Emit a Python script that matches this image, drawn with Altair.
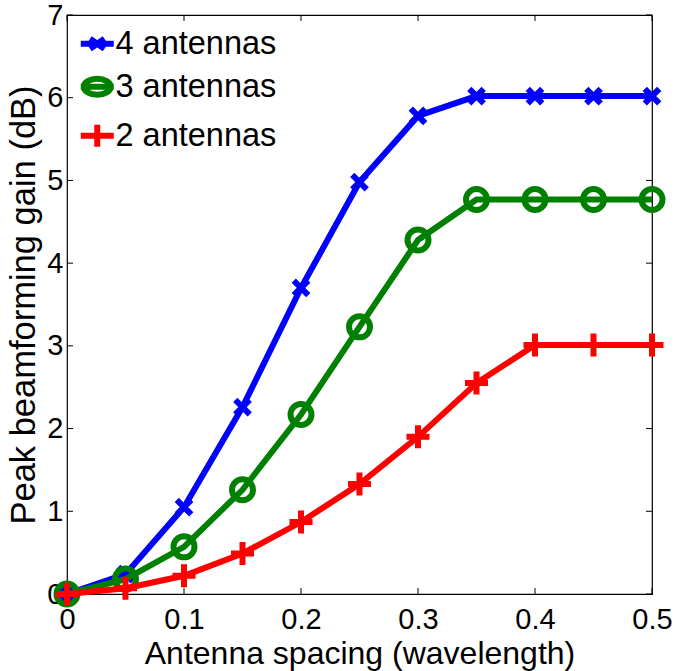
import altair as alt
import pandas as pd

# Peak beamforming gain versus antenna spacing, one curve per array size
spacing = [0, 0.05, 0.1, 0.15, 0.2, 0.25, 0.3, 0.35, 0.4, 0.45, 0.5]
gain_4 = [0, 0.24, 1.05, 2.26, 3.70, 4.98, 5.78, 6.02, 6.02, 6.02, 6.02]
gain_3 = [0, 0.18, 0.57, 1.26, 2.17, 3.23, 4.28, 4.77, 4.77, 4.77, 4.77]
gain_2 = [0, 0.07, 0.22, 0.49, 0.87, 1.33, 1.90, 2.55, 3.01, 3.01, 3.01]

series_names = ["4 antennas", "3 antennas", "2 antennas"]
series_colors = ["#0000FF", "#008000", "#FF0000"]

x_ticks = [0, 0.1, 0.2, 0.3, 0.4, 0.5]
y_ticks = [0, 1, 2, 3, 4, 5, 6, 7]

FONT = "Liberation Sans"
W, H = 585, 579
TICK = 6
LW = 6

rows = []
for name, gains in zip(series_names, [gain_4, gain_3, gain_2]):
    for s, g in zip(spacing, gains):
        rows.append({"spacing": s, "gain": g, "series": name})
df = pd.DataFrame(rows)

# marker glyphs (unit paths, scaled by the mark size)
marker_shape = {
    "4 antennas": "M-1,-1L1,1M-1,1L1,-1",
    "3 antennas": "circle",
    "2 antennas": "M-1,0L1,0M0,-1L0,1",
}
marker_size = {"4 antennas": 210, "3 antennas": 441, "2 antennas": 529}

# legend glyphs: a short line segment with the marker on it
legend_shapes = [
    "M-1.375,0L1.375,0M-0.6,-0.42L0.6,0.42M-0.6,0.42L0.6,-0.42",
    "M-1.125,0A1.125,0.667,0,1,0,1.125,0A1.125,0.667,0,1,0,-1.125,0ZM-1.375,0L1.375,0",
    "M-1.375,0L1.375,0M0,-0.92L0,0.92",
]

x_axis = alt.Axis(values=x_ticks, format="~g", ticks=False, domain=False, grid=False,
                  labelFontSize=29, labelFont=FONT, labelColor="black", labelPadding=11,
                  labelFlush=False, title="Antenna spacing (wavelength)", titleFont=FONT,
                  titleFontSize=32, titleFontWeight="normal", titleColor="black", titlePadding=4)
y_axis = alt.Axis(values=y_ticks, format="d", ticks=False, domain=False, grid=False,
                  labelFontSize=29, labelFont=FONT, labelColor="black", labelPadding=4,
                  labelFlush=False, title="Peak beamforming gain (dB)", titleFont=FONT,
                  titleFontSize=34.5, titleFontWeight="normal", titleColor="black", titlePadding=5)

x_scale = alt.Scale(domain=[0, 0.5], nice=False, zero=False)
y_scale = alt.Scale(domain=[0, 7], nice=False, zero=False)
color_scale = alt.Scale(domain=series_names, range=series_colors)
shape_scale = alt.Scale(domain=series_names, range=legend_shapes)

legend = alt.Legend(
    title=None, orient="none", legendX=14, legendY=12.5,
    labelFont=FONT, labelFontSize=32.5, labelColor="black", labelOffset=2, labelLimit=400,
    symbolSize=576, symbolStrokeWidth=LW, symbolOpacity=1, rowPadding=5,
)

base = alt.Chart(df).encode(
    x=alt.X("spacing:Q", scale=x_scale, axis=x_axis),
    y=alt.Y("gain:Q", scale=y_scale, axis=y_axis),
)

# legend-only layer: no rows pass the filter, the legend is built from the scale domains
key = base.transform_filter("false").mark_point(filled=False, strokeWidth=LW).encode(
    color=alt.Color("series:N", scale=color_scale, legend=legend),
    shape=alt.Shape("series:N", scale=shape_scale, legend=legend),
)

layers = []
for name in series_names:
    sub = base.transform_filter(alt.datum.series == name)
    line = sub.mark_line(strokeWidth=LW, strokeJoin="miter").encode(
        color=alt.Color("series:N", scale=color_scale, legend=None)
    )
    pts = sub.mark_point(shape=marker_shape[name], size=marker_size[name],
                         filled=False, strokeWidth=LW, opacity=1).encode(
        color=alt.Color("series:N", scale=color_scale, legend=None)
    )
    layers += [line, pts]

# inward-pointing tick marks on all four sides of the frame
xt = alt.Chart(pd.DataFrame({"t": x_ticks}))
yt = alt.Chart(pd.DataFrame({"t": y_ticks}))
tick_style = dict(color="black", strokeWidth=1)
ticks = [
    xt.mark_rule(**tick_style).encode(x=alt.X("t:Q", scale=x_scale, axis=x_axis),
                                      y=alt.value(H), y2=alt.value(H - TICK)),
    xt.mark_rule(**tick_style).encode(x=alt.X("t:Q", scale=x_scale, axis=x_axis),
                                      y=alt.value(0), y2=alt.value(TICK)),
    yt.mark_rule(**tick_style).encode(y=alt.Y("t:Q", scale=y_scale, axis=y_axis),
                                      x=alt.value(0), x2=alt.value(TICK)),
    yt.mark_rule(**tick_style).encode(y=alt.Y("t:Q", scale=y_scale, axis=y_axis),
                                      x=alt.value(W), x2=alt.value(W - TICK)),
]

chart = alt.layer(key, *ticks, *layers).properties(
    width=W, height=H, background="white",
    autosize=alt.AutoSizeParams(type="none"),
    padding={"left": 67, "top": 15, "right": 23, "bottom": 77},
).configure_view(stroke="black", strokeWidth=1.2)

chart.save("out.html", embed_options={"renderer": "svg", "actions": False})
